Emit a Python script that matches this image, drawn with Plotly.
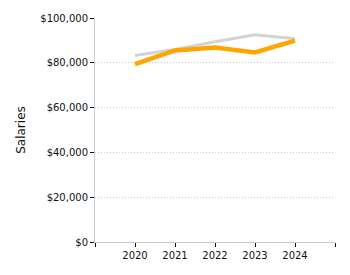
import plotly.graph_objects as go

years = [2020, 2021, 2022, 2023, 2024]
series_gray = [83300, 86000, 89400, 92500, 90700]
series_orange = [79400, 85500, 86800, 84600, 89900]
x_tick_vals = [2019, 2020, 2021, 2022, 2023, 2024, 2025]
x_tick_text = ["", "2020", "2021", "2022", "2023", "2024", ""]
y_tick_vals = [0, 20000, 40000, 60000, 80000, 100000]

fig = go.Figure()
fig.add_trace(go.Scatter(x=years, y=series_gray, mode="lines",
                         line=dict(color="#d3d3d3", width=3), showlegend=False))
fig.add_trace(go.Scatter(x=years, y=series_orange, mode="lines",
                         line=dict(color="#ffa500", width=4.5), showlegend=False))

font = dict(family="DejaVu Sans, Verdana, sans-serif", size=10, color="#111")
title_font = dict(family="DejaVu Sans, Verdana, sans-serif", size=12, color="#111")
fig.update_layout(
    width=350, height=275,
    margin=dict(l=95, r=15, t=15, b=33),
    paper_bgcolor="white", plot_bgcolor="white",
    font=font,
    xaxis=dict(range=[2019, 2025], tickvals=x_tick_vals, ticktext=x_tick_text,
               showgrid=False, zeroline=False, showline=True, linecolor="#cccccc",
               linewidth=1, ticks="outside", ticklen=4, tickcolor="#111",
               tickfont=font),
    yaxis=dict(range=[0, 100000], tickvals=y_tick_vals,
               tickformat="$,.0f", showgrid=True, gridcolor="#c8c8c8",
               griddash="1px,2px",
               zeroline=False, showline=True, linecolor="#cccccc", linewidth=1,
               ticks="outside", ticklen=4, tickcolor="#111", tickfont=font,
               title=dict(text="Salaries", font=title_font, standoff=12)),
)
fig.write_html("out.html")
